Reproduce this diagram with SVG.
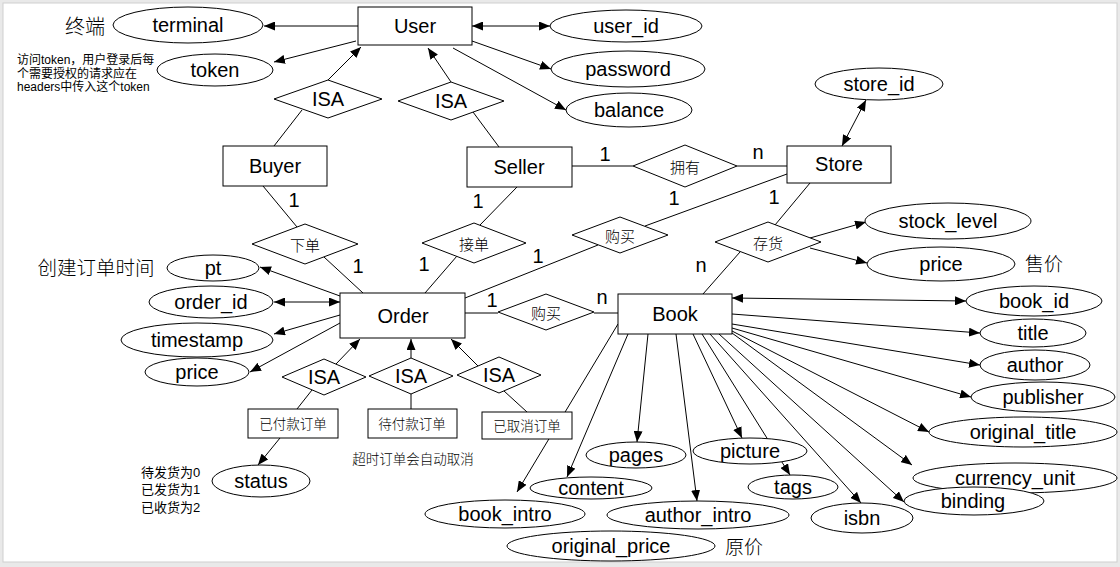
<svg xmlns="http://www.w3.org/2000/svg" width="1120" height="567" viewBox="0 0 1120 567">
<style>
.t{font-family:"Liberation Sans",Arial,"Noto Sans CJK SC",sans-serif;font-size:20px;fill:#000;text-anchor:middle;dominant-baseline:central}
.c{font-family:"Noto Sans CJK SC","Noto Sans CJK JP",sans-serif;font-weight:300;fill:#000;text-anchor:middle;dominant-baseline:central}
.l{font-family:"Liberation Sans","Noto Sans CJK SC",sans-serif;font-size:12px;fill:#000}
.n{font-family:"Liberation Sans","Noto Sans CJK SC",sans-serif;font-size:13px;fill:#000}
.s{fill:#fff;stroke:#000;stroke-width:1}
.e{stroke:#000;stroke-width:1;fill:none}
.a{marker-end:url(#ah)}
.d{marker-end:url(#ah);marker-start:url(#ah)}
</style>
<defs>
<marker id="ah" viewBox="0 0 11 9" refX="11" refY="4.5" markerWidth="11" markerHeight="9" markerUnits="userSpaceOnUse" orient="auto-start-reverse">
<path d="M0,0 L11,4.5 L0,9 z" fill="#000"/>
</marker>
</defs>
<rect x="0" y="0" width="1120" height="567" fill="#e9e9e9"/>
<rect x="3" y="3" width="1114" height="559" fill="#fff" stroke="#cfcfcf" stroke-width="1"/>

<g id="connectors">
<path class="e a" d="M358,26 L264,26"/>
<path class="e a" d="M356,41 L274,62"/>
<path class="e a" d="M328,80 L361,47"/>
<path class="e" d="M274,146 L302,110"/>
<path class="e a" d="M451,82 L428,48"/>
<path class="e" d="M473,112 L499,147"/>
<path class="e d" d="M472,26 L550,26"/>
<path class="e a" d="M472,41 L551,69"/>
<path class="e a" d="M453,48 L566,110"/>
<path class="e" d="M572,166 L633,166"/>
<path class="e" d="M737,166 L787,166"/>
<path class="e d" d="M842,146 L866,100"/>
<path class="e" d="M787,174 L645,226"/>
<path class="e" d="M598,245 L465,298"/>
<path class="e" d="M810,183 L775,225"/>
<path class="e" d="M740,252 L703,294"/>
<path class="e a" d="M810,238 L866,222"/>
<path class="e a" d="M810,248 L867,263"/>
<path class="e" d="M263,186 L297,227"/>
<path class="e" d="M324,257 L363,293"/>
<path class="e" d="M517,187 L480,225"/>
<path class="e" d="M457,256 L425,293"/>
<path class="e" d="M465,313 L498,313"/>
<path class="e" d="M594,313 L618,313"/>
<path class="e a" d="M340,296 L260,267"/>
<path class="e d" d="M340,302 L274,302"/>
<path class="e a" d="M340,315 L274,334"/>
<path class="e a" d="M340,323 L250,372"/>
<path class="e a" d="M336,364 L360,339"/>
<path class="e a" d="M411,358 L411,339"/>
<path class="e a" d="M478,366 L451,339"/>
<path class="e" d="M312,390 L297,409"/>
<path class="e" d="M411,394 L411,409"/>
<path class="e" d="M504,391 L527,412"/>
<path class="e a" d="M280,438 L258,465"/>
<path class="e a" d="M618,324 L517,492"/>
<path class="e a" d="M628,334 L567,477"/>
<path class="e a" d="M648,334 L637,442"/>
<path class="e a" d="M676,334 L697,501"/>
<path class="e a" d="M693,334 L742,438"/>
<path class="e a" d="M702,334 L790,475"/>
<path class="e a" d="M710,334 L861,503"/>
<path class="e a" d="M719,334 L904,502"/>
<path class="e a" d="M732,333 L912,465"/>
<path class="e a" d="M732,331 L929,432"/>
<path class="e a" d="M732,328 L971,397"/>
<path class="e a" d="M732,324 L980,365"/>
<path class="e a" d="M732,314 L980,333"/>
<path class="e d" d="M732,298 L966,301"/>
<text class="t" x="294" y="200">1</text>
<text class="t" x="358" y="266">1</text>
<text class="t" x="478" y="201">1</text>
<text class="t" x="424" y="264">1</text>
<text class="t" x="605" y="154">1</text>
<text class="t" x="758" y="152">n</text>
<text class="t" x="674" y="198">1</text>
<text class="t" x="538" y="256">1</text>
<text class="t" x="774" y="197">1</text>
<text class="t" x="701" y="265">n</text>
<text class="t" x="492" y="300">1</text>
<text class="t" x="602" y="297">n</text>
</g>

<g id="user"><rect class="s" x="358" y="7" width="114" height="38"/><text class="t" x="415" y="26">User</text></g>
<g id="terminal"><ellipse class="s" cx="188" cy="25" rx="75" ry="18"/><text class="t" x="188" y="25">terminal</text><text class="c" x="85" y="25" font-size="20">终端</text></g>
<g id="token"><ellipse class="s" cx="215" cy="70" rx="58" ry="16"/><text class="t" x="215" y="70">token</text>
<text class="l" x="17" y="64">访问token，用户登录后每</text>
<text class="l" x="17" y="78">个需要授权的请求应在</text>
<text class="l" x="17" y="91">headers中传入这个token</text></g>
<g id="isa-buyer"><polygon class="s" points="274,99 328,80 382,99 328,118"/><text class="t" x="328" y="99">ISA</text></g>
<g id="isa-seller"><polygon class="s" points="398,101 451,82 504,101 451,120"/><text class="t" x="451" y="101">ISA</text></g>
<g id="buyer"><rect class="s" x="223" y="146" width="104" height="40"/><text class="t" x="275" y="166">Buyer</text></g>
<g id="seller"><rect class="s" x="467" y="147" width="105" height="40"/><text class="t" x="519" y="167">Seller</text></g>
<g id="user_id"><ellipse class="s" cx="626" cy="26" rx="76" ry="16"/><text class="t" x="626" y="26">user_id</text></g>
<g id="password"><ellipse class="s" cx="628" cy="69" rx="77" ry="18"/><text class="t" x="628" y="69">password</text></g>
<g id="balance"><ellipse class="s" cx="629" cy="110" rx="63" ry="17"/><text class="t" x="629" y="110">balance</text></g>
<g id="own"><polygon class="s" points="633,166 685,145 737,166 685,187"/><text class="c" x="685" y="166" font-size="15">拥有</text></g>
<g id="store"><rect class="s" x="787" y="146" width="104" height="37"/><text class="t" x="839" y="164">Store</text></g>
<g id="store_id"><ellipse class="s" cx="879" cy="84" rx="64" ry="16"/><text class="t" x="879" y="84">store_id</text></g>
<g id="buy-store"><polygon class="s" points="572,235 620,217 668,235 620,253"/><text class="c" x="620" y="235" font-size="15">购买</text></g>
<g id="stock"><polygon class="s" points="715,242 768,222 821,242 768,262"/><text class="c" x="768" y="242" font-size="15">存货</text></g>
<g id="stock_level"><ellipse class="s" cx="948" cy="221" rx="83" ry="18"/><text class="t" x="948" y="221">stock_level</text></g>
<g id="store_price"><ellipse class="s" cx="941" cy="264" rx="74" ry="17"/><text class="t" x="941" y="264">price</text><text class="c" x="1044" y="262" font-size="19">售价</text></g>
<g id="place-order"><polygon class="s" points="252,244 305,224 358,244 305,264"/><text class="c" x="305" y="244" font-size="15">下单</text></g>
<g id="take-order"><polygon class="s" points="422,243 474,223 526,243 474,263"/><text class="c" x="474" y="243" font-size="15">接单</text></g>
<g id="order"><rect class="s" x="340" y="293" width="125" height="45"/><text class="t" x="403" y="316">Order</text></g>
<g id="pt"><ellipse class="s" cx="213" cy="268" rx="46" ry="13"/><text class="t" x="213" y="268">pt</text><text class="c" x="96" y="266" font-size="19.5">创建订单时间</text></g>
<g id="order_id"><ellipse class="s" cx="211" cy="302" rx="62" ry="16"/><text class="t" x="211" y="302">order_id</text></g>
<g id="timestamp"><ellipse class="s" cx="197" cy="340" rx="76" ry="17"/><text class="t" x="197" y="340">timestamp</text></g>
<g id="order_price"><ellipse class="s" cx="197" cy="372" rx="52" ry="14"/><text class="t" x="197" y="372">price</text></g>
<g id="buy-book"><polygon class="s" points="498,312 546,294 594,312 546,330"/><text class="c" x="546" y="312" font-size="15">购买</text></g>
<g id="book"><rect class="s" x="618" y="294" width="114" height="40"/><text class="t" x="675" y="314">Book</text></g>
<g id="isa-paid"><polygon class="s" points="282,377 324,359 366,377 324,395"/><text class="t" x="324" y="377" font-size="16">ISA</text></g>
<g id="isa-unpaid"><polygon class="s" points="369,376 411,358 453,376 411,394"/><text class="t" x="411" y="376" font-size="16">ISA</text></g>
<g id="isa-cancel"><polygon class="s" points="457,375 499,357 541,375 499,393"/><text class="t" x="499" y="375" font-size="16">ISA</text></g>
<g id="paid"><rect class="s" x="248" y="409" width="90" height="29"/><text class="c" x="293" y="423" font-size="13.5">已付款订单</text></g>
<g id="unpaid"><rect class="s" x="368" y="409" width="89" height="29"/><text class="c" x="412" y="423" font-size="13.5">待付款订单</text><text class="c" x="413" y="458" font-size="13.5">超时订单会自动取消</text></g>
<g id="cancelled"><rect class="s" x="482" y="412" width="90" height="27"/><text class="c" x="527" y="425" font-size="13.5">已取消订单</text></g>
<g id="status"><ellipse class="s" cx="261" cy="481" rx="49" ry="16"/><text class="t" x="261" y="481">status</text>
<text class="n" x="141" y="477">待发货为0</text>
<text class="n" x="141" y="494">已发货为1</text>
<text class="n" x="141" y="512">已收货为2</text></g>
<g id="book_intro"><ellipse class="s" cx="505" cy="514" rx="80" ry="14"/><text class="t" x="505" y="514">book_intro</text></g>
<g id="content"><ellipse class="s" cx="591" cy="488" rx="61" ry="11"/><text class="t" x="591" y="488">content</text></g>
<g id="pages"><ellipse class="s" cx="636" cy="455" rx="50" ry="13"/><text class="t" x="636" y="455">pages</text></g>
<g id="author_intro"><ellipse class="s" cx="698" cy="515" rx="91" ry="14"/><text class="t" x="698" y="515">author_intro</text></g>
<g id="original_price"><ellipse class="s" cx="611" cy="546" rx="104" ry="15"/><text class="t" x="611" y="546">original_price</text><text class="c" x="744" y="545" font-size="19">原价</text></g>
<g id="picture"><ellipse class="s" cx="750" cy="451" rx="57" ry="13"/><text class="t" x="750" y="451">picture</text></g>
<g id="tags"><ellipse class="s" cx="793" cy="487" rx="45" ry="12"/><text class="t" x="793" y="487">tags</text></g>
<g id="isbn"><ellipse class="s" cx="862" cy="518" rx="51" ry="15"/><text class="t" x="862" y="518">isbn</text></g>
<g id="book_id"><ellipse class="s" cx="1034" cy="301" rx="68" ry="15"/><text class="t" x="1034" y="301">book_id</text></g>
<g id="title"><ellipse class="s" cx="1033" cy="333" rx="53" ry="14"/><text class="t" x="1033" y="333">title</text></g>
<g id="author"><ellipse class="s" cx="1035" cy="365" rx="55" ry="15"/><text class="t" x="1035" y="365">author</text></g>
<g id="publisher"><ellipse class="s" cx="1043" cy="397" rx="72" ry="15"/><text class="t" x="1043" y="397">publisher</text></g>
<g id="original_title"><ellipse class="s" cx="1023" cy="432" rx="94" ry="15"/><text class="t" x="1023" y="432">original_title</text></g>
<g id="currency_unit"><ellipse class="s" cx="1015" cy="478" rx="102" ry="15"/><text class="t" x="1015" y="478">currency_unit</text></g>
<g id="binding"><ellipse class="s" cx="974" cy="501" rx="70" ry="14"/><text class="t" x="973" y="501">binding</text></g>
</svg>
